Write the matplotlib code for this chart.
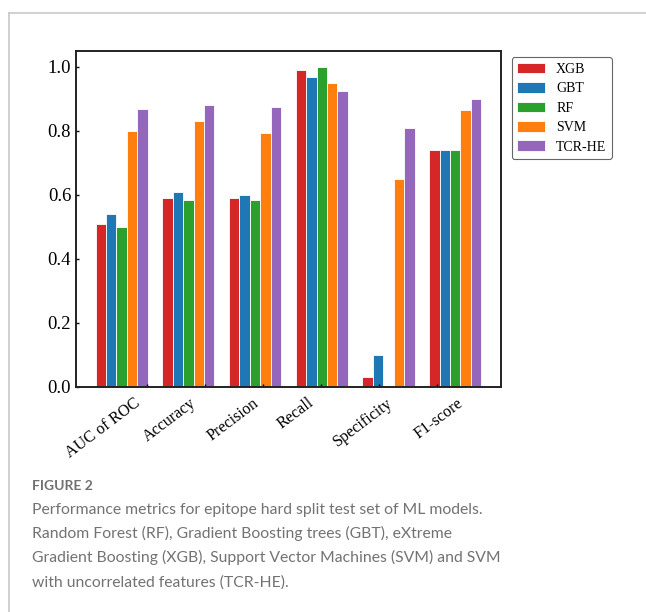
import matplotlib
matplotlib.use("Agg")
import matplotlib.pyplot as plt
import matplotlib.transforms as mtransforms
import numpy as np
from matplotlib.lines import Line2D

# metrics on the x axis
metrics = ["AUC of ROC", "Accuracy", "Precision", "Recall", "Specificity", "F1-score"]
models = ["XGB", "GBT", "RF", "SVM", "TCR-HE"]
colors = ["#d62728", "#1f77b4", "#2ca02c", "#ff7f0e", "#9467bd"]

xgb = [0.51, 0.59, 0.59, 0.99, 0.03, 0.74]
gbt = [0.54, 0.61, 0.60, 0.97, 0.10, 0.74]
rf = [0.50, 0.585, 0.585, 1.00, 0.0, 0.74]
svm = [0.80, 0.83, 0.795, 0.95, 0.65, 0.865]
tcr_he = [0.87, 0.88, 0.875, 0.925, 0.81, 0.90]
scores = [xgb, gbt, rf, svm, tcr_he]

caption_title = "FIGURE 2"
caption_lines = [
    "Performance metrics for epitope hard split test set of ML models.",
    "Random Forest (RF), Gradient Boosting trees (GBT), eXtreme",
    "Gradient Boosting (XGB), Support Vector Machines (SVM) and SVM",
    "with uncorrelated features (TCR-HE).",
]

W, H = 646, 612
fig = plt.figure(figsize=(W / 100, H / 100), dpi=100)

# page frame (top and left border)
fig.add_artist(Line2D([8.5 / W, 1.0], [1 - 12.5 / H] * 2, color="#c8c8c8", lw=1.2))
fig.add_artist(Line2D([8.5 / W] * 2, [0.0, 1 - 12.5 / H], color="#c8c8c8", lw=1.2))

ax = fig.add_axes([76 / W, 1 - 386.7 / H, (500.7 - 76) / W, (386.7 - 51) / H])

serif = "Liberation Serif"
width = 0.156
x = np.arange(len(metrics))
for k, (name, vals, col) in enumerate(zip(models, scores, colors)):
    ax.bar(x + (k - 2) * width, vals, width, color=col, label=name,
           edgecolor="white", linewidth=0.6)

ax.set_xlim(-0.685, 5.682)
ax.set_ylim(0, 1.05)
ax.set_yticks([0.0, 0.2, 0.4, 0.6, 0.8, 1.0])
ax.set_yticklabels(["0.0", "0.2", "0.4", "0.6", "0.8", "1.0"], fontsize=13.5, family=serif)
ax.tick_params(direction="in", length=2.5, width=1)
ax.tick_params(axis="x", pad=6)

# tick marks in the original don't line up with the bar groups,
# and the labels are nudged individually
tick_pos = 0.384 + 0.868 * x
label_dx = [-4, -6, -1.5, -4, 17, 29]  # pixels
ax.set_xticks(tick_pos)
ax.set_xticklabels(metrics, rotation=37, ha="right", fontsize=11.6, family=serif)
for lab, dx in zip(ax.get_xticklabels(), label_dx):
    lab.set_transform(lab.get_transform()
                      + mtransforms.ScaledTranslation(dx / 100, 0, fig.dpi_scale_trans))
for sp in ax.spines.values():
    sp.set_linewidth(1.4)
    sp.set_color("#222222")

leg = ax.legend(loc="upper left", bbox_to_anchor=(511.7 / W, 1 - 57.3 / H),
                bbox_transform=fig.transFigure, prop={"family": serif, "size": 10},
                handlelength=2.0, handleheight=0.8, labelspacing=0.45,
                borderaxespad=0, framealpha=1, fancybox=True)
leg.get_frame().set_edgecolor("#666666")
leg.get_frame().set_linewidth(0.8)

fig.text(32 / W, 1 - 490 / H, caption_title, fontsize=10, family="Lato",
         weight="bold", color="#707070", va="baseline")
for i, line in enumerate(caption_lines):
    fig.text(32 / W, 1 - (514 + 24.2 * i) / H, line, fontsize=11.3,
             family="Lato", color="#727272", va="baseline")

fig.savefig("out.png", dpi=100)
